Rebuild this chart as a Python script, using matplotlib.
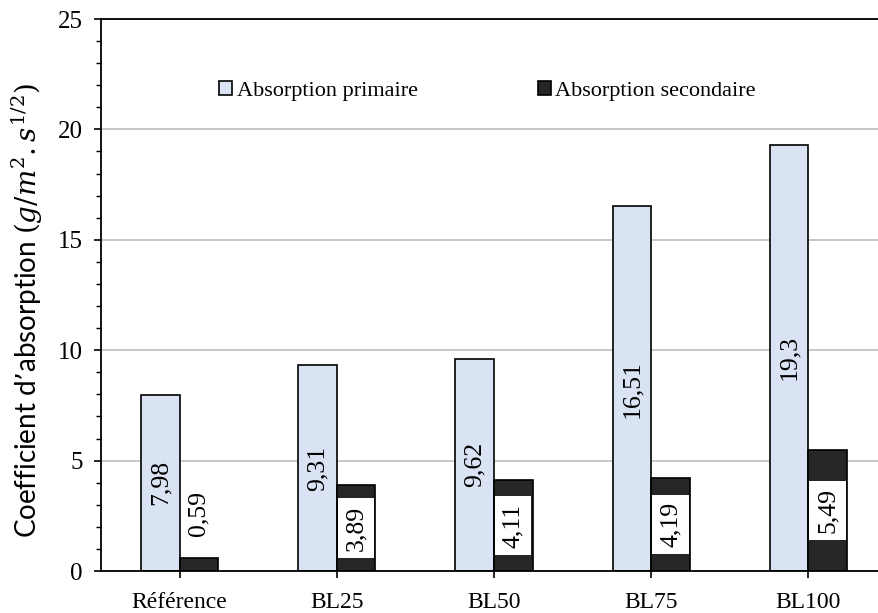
import matplotlib
matplotlib.use("Agg")
import matplotlib.pyplot as plt
from matplotlib.patches import Patch
import numpy as np

categories = ["Référence", "BL25", "BL50", "BL75", "BL100"]
primaire = [7.98, 9.31, 9.62, 16.51, 19.3]
secondaire = [0.59, 3.89, 4.11, 4.19, 5.49]
lab_primaire = ["7,98", "9,31", "9,62", "16,51", "19,3"]
lab_secondaire = ["0,59", "3,89", "4,11", "4,19", "5,49"]

plt.rcParams["mathtext.fontset"] = "dejavuserif"
serif = ["Liberation Serif", "DejaVu Serif"]
col_p = "#DAE3F3"
col_s = "#262626"

fig = plt.figure(figsize=(8.79, 6.13), dpi=100)
ax = fig.add_axes([101/879, 42/613, 786/879, 552/613])

x = np.arange(len(categories))
w = 0.245
ax.bar(x - w/2, primaire, w, color=col_p, edgecolor="black", linewidth=1.2, zorder=2)
ax.bar(x + w/2, secondaire, w, color=col_s, edgecolor="black", linewidth=1.2, zorder=2)

for i in range(len(categories)):
    ax.text(x[i] - w/2, primaire[i]/2, lab_primaire[i], rotation=90, ha="center", va="center",
            fontsize=18.5, family=serif, zorder=4)
    ys = secondaire[i]/2 if secondaire[i] > 2 else 2.6
    ax.text(x[i] + w/2, ys, lab_secondaire[i], rotation=90, ha="center", va="center",
            fontsize=18.5, family=serif, zorder=4,
            bbox=dict(boxstyle="square,pad=0.28", facecolor="white", edgecolor="none"))

ax.set_xlim(-0.5, len(categories) - 0.5)
ax.set_ylim(0, 25)
ax.set_yticks([0, 5, 10, 15, 20, 25])
ax.set_yticks(np.arange(0, 26, 1), minor=True)
ax.set_xticks(x)
ax.set_xticklabels(categories, family=serif, fontsize=17)
for t in ax.get_yticklabels():
    t.set_family(serif)
    t.set_fontsize(18)
ax.tick_params(axis="x", length=5, width=1.2, pad=10)
ax.tick_params(axis="y", which="major", length=5, width=1.2, pad=8)
ax.tick_params(axis="y", which="minor", length=3.5, width=1.0)
ax.grid(axis="y", which="major", color="#BFBFBF", linewidth=1.2, zorder=0)
ax.set_axisbelow(True)
for s in ["left", "bottom", "top"]:
    ax.spines[s].set_linewidth(1.3)
ax.spines["right"].set_visible(False)

ax.set_ylabel("Coefficient d\u2019absorption $(g/m^2.s^{1/2})$", fontsize=20,
              family=["Lato", "DejaVu Sans"], va="center", ha="center")
ax.yaxis.set_label_coords(-74/786, 0.471)

handles = [Patch(facecolor=col_p, edgecolor="black", linewidth=1.2, label="Absorption primaire"),
           Patch(facecolor=col_s, edgecolor="black", linewidth=1.2, label="Absorption secondaire")]
ax.legend(handles=handles, loc="center left", bbox_to_anchor=(109/786, 1 - 72/552), ncol=2,
          frameon=False, prop={"family": serif, "size": 16}, handlelength=0.6, handleheight=0.6,
          handletextpad=0.2, columnspacing=5.4, borderaxespad=0)

fig.savefig("out.png", dpi=100)
